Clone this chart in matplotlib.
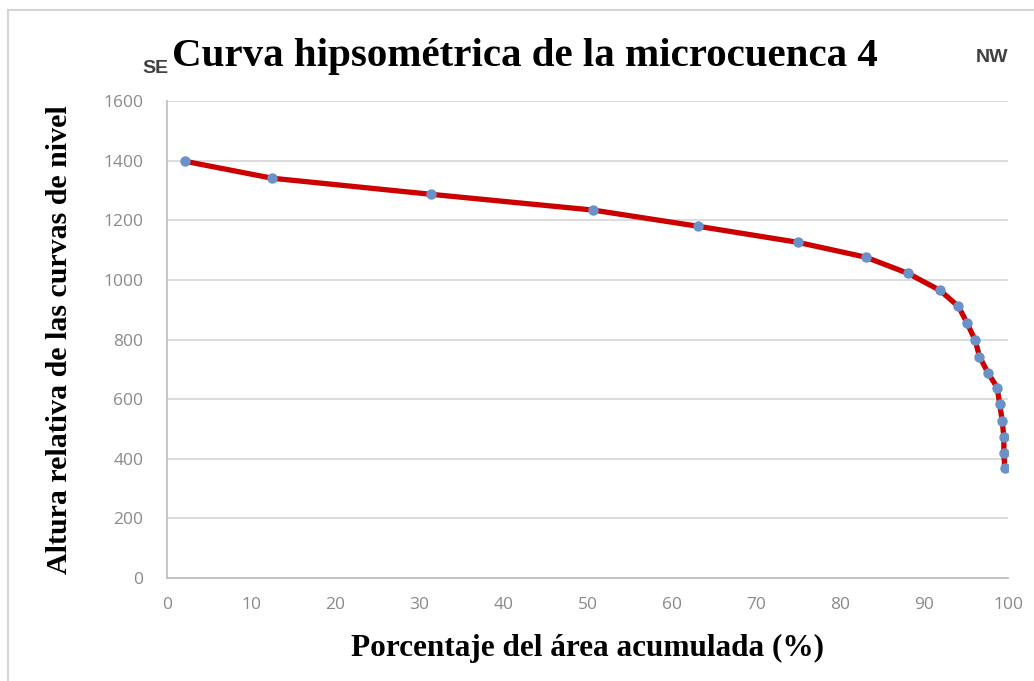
import matplotlib
matplotlib.use("Agg")
import matplotlib.pyplot as plt
from matplotlib.patches import Rectangle

# Hypsometric curve data
area_pct = [2.1, 12.5, 31.4, 50.7, 63.1, 75.0, 83.1, 88.1, 91.9, 94.1,
            95.1, 96.1, 96.6, 97.6, 98.7, 99.0, 99.3, 99.5, 99.5, 99.6]
altura = [1398, 1341, 1287, 1234, 1180, 1126, 1076, 1022, 965, 911,
          857, 797, 743, 689, 639, 585, 528, 474, 420, 370]

x_ticks = list(range(0, 101, 10))
y_ticks = list(range(0, 1601, 200))

title = "Curva hipsométrica de la microcuenca 4"
xlabel = "Porcentaje del área acumulada (%)"
ylabel = "Altura relativa de las curvas de nivel"

serif = ["Liberation Serif", "DejaVu Serif"]
tick_font = "Open Sans"
tick_color = "#8a8a8a"

fig = plt.figure(figsize=(10.34, 6.81), dpi=100)
ax = fig.add_axes([0.1615, 0.1512, 0.8134, 0.7005])

ax.plot(area_pct, altura, color="#cc0000", linewidth=3.8, zorder=3,
        solid_capstyle="round", solid_joinstyle="round")
ax.plot(area_pct, altura, linestyle="none", marker="o", markersize=6.5,
        markerfacecolor="#6a92c8", markeredgecolor="#6a92c8", zorder=4)

ax.set_xlim(0, 100)
ax.set_ylim(0, 1600)
ax.set_xticks(x_ticks)
ax.set_yticks(y_ticks)
ax.grid(axis="y", color="#d9d9d9", linewidth=1.3)
ax.set_axisbelow(True)
ax.tick_params(length=0, labelsize=12.5, labelcolor=tick_color)
ax.tick_params(axis="x", pad=14)
ax.tick_params(axis="y", pad=17)
for lab in ax.get_xticklabels() + ax.get_yticklabels():
    lab.set_fontfamily(tick_font)

for side in ("top", "right"):
    ax.spines[side].set_visible(False)
for side in ("left", "bottom"):
    ax.spines[side].set_color("#c0c0c0")
    ax.spines[side].set_linewidth(1.3)

ax.set_xlabel(xlabel, family=serif, fontweight="bold", fontsize=22.5, labelpad=15)
ax.set_ylabel(ylabel, family=serif, fontweight="bold", fontsize=21.5, labelpad=22)

fig.text(0.508, 0.917, title, family=serif, fontweight="bold", fontsize=29.5,
         ha="center", va="center")
fig.text(0.150, 0.900, "SE", family="Liberation Sans", fontweight="bold",
         fontsize=14, color="#404040", ha="center", va="center")
fig.text(0.959, 0.915, "NW", family="Liberation Sans", fontweight="bold",
         fontsize=14, color="#404040", ha="center", va="center")

# light outer border of the chart area (right/bottom edges fall outside)
fig.add_artist(Rectangle((0.008, -0.05), 1.1, 0.036 + 1.0, transform=fig.transFigure,
                         fill=False, edgecolor="#d4d4d4", linewidth=1.5))

fig.savefig("out.png", dpi=100)
